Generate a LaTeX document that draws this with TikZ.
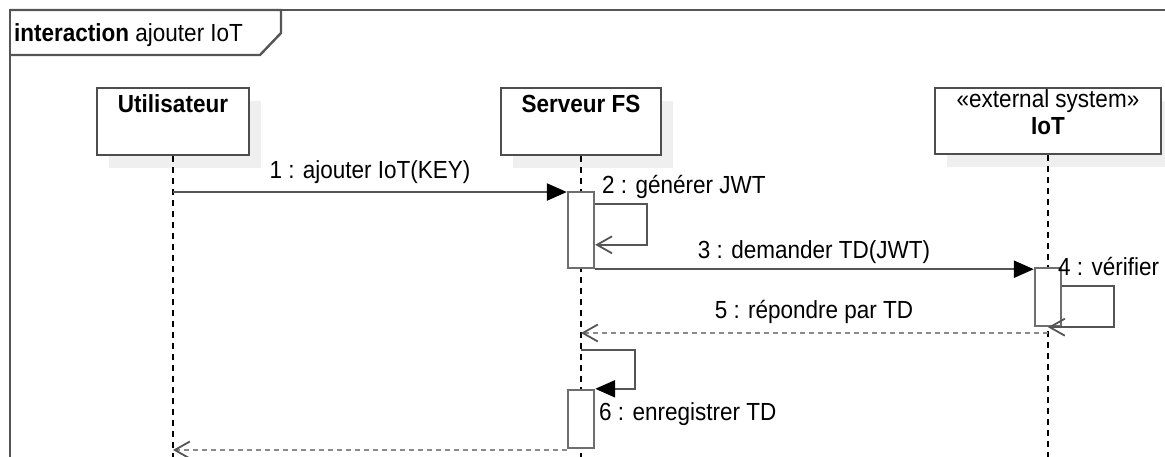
\documentclass[tikz,border=0pt]{standalone}
\usepackage{fontspec}
\setmainfont{Liberation Sans}
\usetikzlibrary{arrows.meta,shadows,calc}
\definecolor{framecol}{HTML}{555555}
\definecolor{boxcol}{HTML}{4D4D4D}
\definecolor{actcol}{HTML}{6E6E6E}
\definecolor{msgcol}{HTML}{555555}
\definecolor{replycol}{HTML}{8A8A8A}
\definecolor{shadecol}{HTML}{EFEFEF}
% labels are set slightly taller than the plain font
\newcommand{\tallt}[1]{\scalebox{1}[1.1]{#1}}
\tikzset{
  frameline/.style={draw=framecol, line width=2.4pt},
  actor/.style={draw=boxcol, fill=white, line width=2.6pt, rectangle, inner sep=0pt,
    drop shadow={shadow xshift=12pt, shadow yshift=-13pt, fill=shadecol, opacity=1}},
  activation/.style={draw=actcol, fill=white, line width=2.4pt, rectangle, inner sep=0pt,
    minimum width=26pt},
  lifeline/.style={draw=black, line width=1.8pt, dash pattern=on 6pt off 5pt},
  callmsg/.style={draw=msgcol, line width=2.4pt,
    -{Triangle[length=20pt,width=17pt,fill=black,color=black]}},
  selfmsg/.style={draw=msgcol, line width=2.4pt,
    -{Straight Barb[length=15pt,width=17pt,line width=1.8pt]}},
  selfcall/.style={draw=msgcol, line width=2.4pt,
    -{Triangle[length=20pt,width=17pt,fill=black,color=black]}},
  replymsg/.style={draw=replycol, line width=2.4pt, dash pattern=on 5pt off 4pt,
    -{Straight Barb[length=15pt,width=17pt,line width=1.8pt,color=msgcol]}},
  lbl/.style={inner sep=0pt, anchor=base},
  lblw/.style={inner sep=0pt, anchor=base west},
  boldlbl/.style={lbl, font=\fontsize{22.5}{26}\selectfont\bfseries},
}
\begin{document}
\begin{tikzpicture}[x=1pt, y=-1pt, font=\fontsize{22.5}{26}\selectfont]
\useasboundingbox (0,0) rectangle (1165,456);
\clip (0,0) rectangle (1165,456);

% interaction frame and its title tab
\draw[frameline] (10,480) -- (10,10) -- (1200,10);
\draw[frameline] (10,10) -- (281,10) -- (281,33) -- (260,55) -- (10,55);
\node[lblw] (title) at (14,41) {\tallt{\textbf{interaction} ajouter IoT}};

% participants
\node[actor, minimum width=152pt, minimum height=67pt] (user) at (173,121.5) {};
\node[actor, minimum width=160pt, minimum height=67pt] (server) at (581,121.5) {};
\node[actor, minimum width=226pt, minimum height=66pt] (iot) at (1048,121) {};
\node[boldlbl] (userT) at (173,112) {\tallt{Utilisateur}};
\node[boldlbl] (serverT) at (581,112) {\tallt{Serveur FS}};
\node[lbl] (iotS) at (1048,107) {\tallt{«external system»}};
\node[boldlbl] (iotT) at (1048,134) {\tallt{IoT}};

% lifelines
\coordinate (userEnd) at (173,470);
\coordinate (serverEnd) at (581,470);
\coordinate (iotEnd) at (1048,470);
\draw[lifeline] (user.south) -- (userEnd);
\draw[lifeline] (server.south) -- (serverEnd);
\draw[lifeline] (iot.south) -- (iotEnd);

% activation bars
\node[activation, minimum height=76pt] (act1) at (581,230) {};
\node[activation, minimum height=58pt] (actI) at (1048,297) {};
\node[activation, minimum height=58pt] (act2) at (581,419) {};

% points on the lifelines where messages start or end
\coordinate (u1) at (173,192);
\coordinate (iot5) at (1048,333);
\coordinate (srv5) at (581,333);
\coordinate (srv6) at (581,350);
\coordinate (u7) at (173,450);

% 1 : ajouter IoT(KEY)
\draw[callmsg] (u1) -- (u1 -| act1.west);
\node[lbl] (l1) at (370,178) {\tallt{1 : ajouter IoT(KEY)}};

% 2 : générer JWT
\draw[selfmsg] ([yshift=-13pt]act1.north east) -- ++(52,0) -- ++(0,41) -- ([yshift=-54pt]act1.north east);
\node[lblw] (l2) at (602,193) {\tallt{2 : générer JWT}};

% 3 : demander TD(JWT)
\draw[callmsg] (act1.south east) -- (act1.south east -| actI.west);
\node[lbl] (l3) at (814,258) {\tallt{3 : demander TD(JWT)}};

% 4 : vérifier
\draw[selfmsg] ([yshift=-19pt]actI.north east) -- ++(52,0) |- (actI.south);
\node[lblw] (l4) at (1058,275) {\tallt{4 : vérifier}};

% 5 : répondre par TD
\draw[replymsg] (iot5) -- (srv5);
\node[lbl] (l5) at (814,318) {\tallt{5 : répondre par TD}};

% 6 : enregistrer TD
\draw[selfcall] (srv6) -- ++(54,0) |- (act2.north east);
\node[lblw] (l6) at (599,420) {\tallt{6 : enregistrer TD}};

% reply to the user
\draw[replymsg] (act2.south west |- u7) -- (u7);
\end{tikzpicture}
\end{document}
